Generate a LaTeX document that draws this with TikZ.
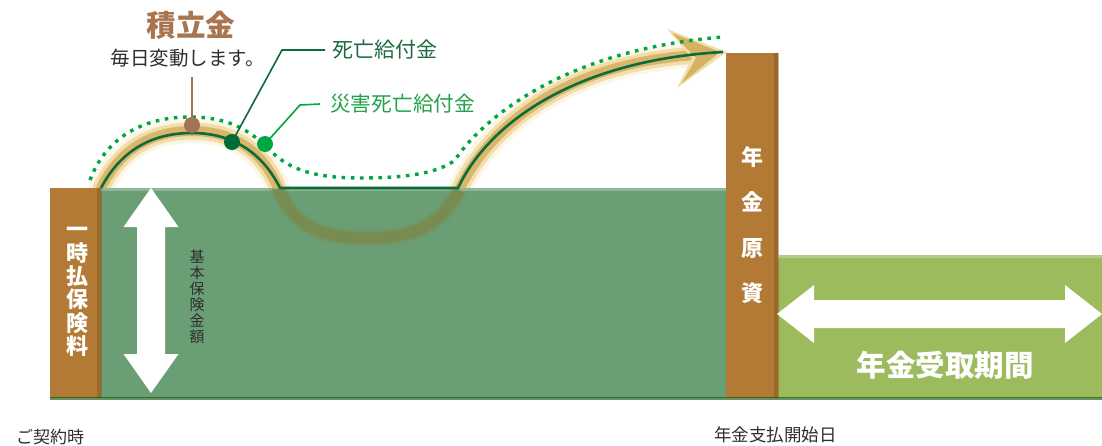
\documentclass[tikz,border=0pt]{standalone}
\usepackage{fontspec}
\newfontfamily\jp{Noto Sans CJK JP}
\definecolor{barbrown}{HTML}{B27A35}
\definecolor{bardark}{HTML}{7E5320}
\definecolor{maingreen}{HTML}{6A9F75}
\definecolor{lightgreen}{HTML}{9CBB5D}
\definecolor{linegreen}{HTML}{0B6B3B}
\definecolor{dotgreen}{HTML}{00A640}
\definecolor{darkdot}{HTML}{006B3A}
\definecolor{tbrown}{HTML}{A8754F}
\definecolor{dotbrown}{HTML}{A27452}
\definecolor{deathtext}{HTML}{1D6A42}
\definecolor{disastertext}{HTML}{22A34A}
\definecolor{glowA}{HTML}{FCF6E6}
\definecolor{glowB}{HTML}{F1DEAC}
\definecolor{glowC}{HTML}{D9B66A}
\definecolor{olive}{HTML}{7C8749}
\definecolor{headtan}{HTML}{D3B262}
\definecolor{textgray}{HTML}{2E2E2E}
\begin{document}
\begin{tikzpicture}[x=1pt,y=-1pt,
  jtext/.style={font=\jp, inner sep=0pt},
  dotmark/.style={circle, minimum size=16pt, inner sep=0pt},
  leader/.style={line width=1.6pt},
  vtext/.style={align=center, inner sep=0pt, text=white},
  bigarrow/.style={fill=white}]
\useasboundingbox (0,0) rectangle (1102,445);
\fill[white] (0,0) rectangle (1102,445);

% glow band of the fund
\foreach \w/\c in {24/glowA,17/glowB,10/glowC}{
  \draw[line width=\w pt, \c, line cap=round]
    (101,188) .. controls (120,150) and (150,131) .. (192,131)
    .. controls (232,131) and (262,150) .. (277,186)
    .. controls (295,232) and (330,238) .. (367,238)
    .. controls (405,238) and (440,230) .. (459,190)
    .. controls (492,122) and (570,62) .. (698,55);
}
% arrow head of the band
\fill[glowB] (667,29) -- (727,52) -- (677,88) -- (692,58) -- cycle;
\fill[headtan] (672,33) -- (720,52) -- (682,83) -- (696,58) -- cycle;

% areas
\fill[maingreen] (101,188) rectangle (726,398);
\fill[lightgreen] (778,255) rectangle (1102,398);
\fill[barbrown] (50,188) rectangle (101,398);
\fill[barbrown] (726,53) rectangle (778,398);
\fill[bardark, opacity=0.45] (97,188) rectangle (102,398);
\fill[bardark, opacity=0.45] (774,53) rectangle (779,398);
\fill[white, opacity=0.25] (101,188) rectangle (726,191);
\fill[white, opacity=0.25] (778,255) rectangle (1102,258);
\fill[black!70!green, opacity=0.6] (50,397) rectangle (1102,400);

% band seen through the green
\begin{scope}
  \clip (101,189) rectangle (726,398);
  \draw[line width=17pt, olive, opacity=0.3]
    (277,186) .. controls (295,232) and (330,238) .. (367,238)
    .. controls (405,238) and (440,230) .. (459,190);
  \draw[line width=11pt, olive, opacity=0.75]
    (270,170) .. controls (277,186) and (277,186) .. (277,186)
    .. controls (295,232) and (330,238) .. (367,238)
    .. controls (405,238) and (440,230) .. (459,190);
\end{scope}

% dotted disaster death benefit
\draw[dotgreen, line width=3.4pt, dash pattern=on 3.6pt off 5.6pt]
  (90,180) .. controls (105,140) and (140,117) .. (190,117)
  .. controls (235,117) and (255,135) .. (275,155)
  .. controls (295,172) and (320,178) .. (362,178)
  .. controls (410,178) and (440,172) .. (455,160)
  .. controls (480,122) and (560,50) .. (723,37);

% solid death benefit
\draw[linegreen, line width=2.6pt]
  (101,188) .. controls (120,152) and (150,133) .. (192,133)
  .. controls (232,133) and (262,152) .. (280,188)
  -- (458,188) .. controls (490,120) and (580,60) .. (723,52);

% white double arrows
\fill[bigarrow] (151,188) -- (178.5,227) -- (165,227) -- (165,354) -- (178.5,354)
  -- (151,393) -- (123.5,354) -- (137,354) -- (137,227) -- (123.5,227) -- cycle;
\fill[bigarrow] (777,314) -- (814,285) -- (814,300) -- (1065,300) -- (1065,285)
  -- (1102,314) -- (1065,343) -- (1065,328) -- (814,328) -- (814,343) -- cycle;

% labels
\node[jtext, text=tbrown, font=\jp\bfseries\fontsize{29.5}{29.5}\selectfont] (tsumi) at (191,25) {積立金};
\node[jtext, text=textgray, font=\jp\fontsize{19.5}{19.5}\selectfont] (daily) at (188,58) {毎日変動します。};
\coordinate (bleadtop) at (192,77);
\node[dotmark, fill=dotbrown] (bdot) at (192,125) {};
\draw[leader, dotbrown] (bdot.center) -- (bleadtop);

\node[jtext, anchor=west, inner xsep=7pt, text=deathtext, font=\jp\fontsize{21}{21}\selectfont] (death) at (325,50) {死亡給付金};
\node[jtext, anchor=west, inner xsep=10pt, text=disastertext, font=\jp\fontsize{20.7}{20.7}\selectfont] (disaster) at (320,104) {災害死亡給付金};
\coordinate (dbend) at (282,50);
\coordinate (sbend) at (300,105);
\node[dotmark, fill=darkdot] (ddot) at (232,142) {};
\node[dotmark, fill=dotgreen] (sdot) at (265,144) {};
\draw[leader, linegreen] (ddot.center) -- (dbend) -- (death.west);
\draw[leader, dotgreen] (sdot.center) -- (sbend) -- (disaster.west);

\node[vtext, font=\jp\bfseries\fontsize{22}{23.4}\selectfont] (premium) at (77,292) {一\\時\\払\\保\\険\\料};
\node[vtext, text=textgray, font=\jp\fontsize{15}{17.5}\selectfont] (insured) at (197,297) {基\\[-1.6pt]本\\[-1.6pt]保\\[-1.6pt]険\\[-1.6pt]金\\[-1.6pt]額};
\node[vtext, font=\jp\bfseries\fontsize{22}{45.3}\selectfont] (capital) at (752,225) {年\\金\\原\\資};
\node[jtext, text=white, font=\jp\bfseries\fontsize{29.5}{29.5}\selectfont] (period) at (945,365) {年金受取期間};

\node[jtext, anchor=west, text=textgray, font=\jp\fontsize{17}{17}\selectfont] (contract) at (16,437) {ご契約時};
\node[jtext, anchor=west, text=textgray, font=\jp\fontsize{17.5}{17.5}\selectfont] (start) at (714,435) {年金支払開始日};
\end{tikzpicture}
\end{document}
